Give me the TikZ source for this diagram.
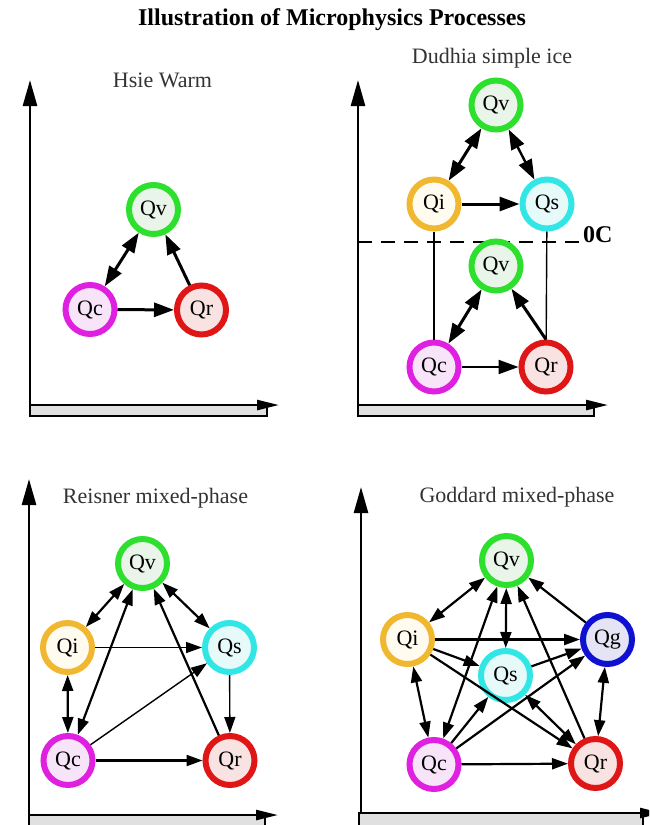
\documentclass[tikz,border=0pt]{standalone}
\usepackage{fontspec}
\setmainfont{Liberation Serif}
\usetikzlibrary{arrows.meta}

% ring and fill colours of the hydrometeor species
\definecolor{ringv}{HTML}{2EE02E}\definecolor{fillv}{HTML}{EAF5EA}
\definecolor{ringc}{HTML}{E020E0}\definecolor{fillc}{HTML}{F8E4F8}
\definecolor{ringr}{HTML}{E01515}\definecolor{fillr}{HTML}{F8E2E2}
\definecolor{ringi}{HTML}{F0B830}\definecolor{filli}{HTML}{FFFBEE}
\definecolor{rings}{HTML}{33E6E6}\definecolor{fills}{HTML}{E6FAFA}
\definecolor{ringg}{HTML}{1010D0}\definecolor{fillg}{HTML}{E4E4F4}
\definecolor{bargray}{HTML}{E0E0E0}
\definecolor{labelgray}{HTML}{333333}

\tikzset{
  bighead/.tip={Triangle[length=20pt,width=14pt]},
  smallhead/.tip={Triangle[length=16pt,width=11pt]},
  species/.style={circle, inner sep=0pt, minimum size=49pt, line width=6pt,
    font=\fontsize{22}{22}\selectfont},
  qv/.style={species, draw=ringv, fill=fillv},
  qc/.style={species, draw=ringc, fill=fillc},
  qr/.style={species, draw=ringr, fill=fillr},
  qi/.style={species, draw=ringi, fill=filli},
  qs/.style={species, draw=rings, fill=fills},
  qg/.style={species, draw=ringg, fill=fillg},
  warm/.style={line width=3pt, -bighead},
  warmboth/.style={line width=3pt, bighead-bighead},
  midflow/.style={line width=2.2pt, -bighead},
  midboth/.style={line width=2.4pt, bighead-bighead},
  flow/.style={line width=2.2pt, -smallhead},
  flowboth/.style={line width=2.2pt, smallhead-smallhead},
  lightflow/.style={line width=1.4pt, -smallhead},
  link/.style={line width=1.4pt},
  yaxis/.style={line width=2.5pt, -{Triangle[length=26pt,width=14pt]}},
  xaxis/.style={line width=2.5pt, -{Triangle[length=22pt,width=10pt]}},
  ground/.style={fill=bargray, draw=black, line width=1.5pt},
  paneltitle/.style={anchor=base, text=labelgray, font=\fontsize{22}{22}\selectfont},
}

\begin{document}
\begin{tikzpicture}[x=1pt, y=-1pt]
\path[use as bounding box, fill=white] (0,0) rectangle (649,825);
\clip (0,0) rectangle (649,825);

\node[anchor=base, font=\bfseries\fontsize{24}{24}\selectfont] (title) at (332,25)
  {Illustration of Microphysics Processes};

% ---------- Hsie Warm ----------
\coordinate (a-o) at (30,405);
\coordinate (a-top) at (30,80);
\coordinate (a-end) at (279,405);
\draw[ground] (30,405) rectangle (267,416);
\draw[yaxis] ([yshift=-1.25pt]a-o) -- (a-top);
\draw[xaxis] (a-o) -- (a-end);
\node[paneltitle] (a-title) at (162.5,87) {Hsie Warm};

\node[qv] (a-v) at (153.5,209.5) {Qv};
\node[qc] (a-c) at (90,309.5) {Qc};
\node[qr] (a-r) at (201.5,310) {Qr};
\draw[warmboth] (a-c) -- (a-v);
\draw[warm] (a-c) -- (a-r);
\draw[warm] (a-r) -- (a-v);

% ---------- Dudhia simple ice ----------
\coordinate (b-o) at (358,405);
\coordinate (b-top) at (358,80);
\coordinate (b-end) at (608,405);
\draw[ground] (358,405) rectangle (594,416);
\draw[yaxis] ([yshift=-1.25pt]b-o) -- (b-top);
\draw[xaxis] (b-o) -- (b-end);
\node[paneltitle] (b-title) at (492,63) {Dudhia simple ice};

\coordinate (b-zl) at (358,242);
\coordinate (b-zr) at (582,242);
\draw[line width=2pt, dash pattern=on 14pt off 9pt] (b-zl) -- (b-zr);
\node[anchor=base west, inner sep=0pt, font=\bfseries\fontsize{24}{24}\selectfont] (b-zero) at (583,242) {0C};

\node[qv] (b-v) at (496,105) {Qv};
\node[qi] (b-i) at (434,204) {Qi};
\node[qs] (b-s) at (547,204) {Qs};
\node[qv] (b-v2) at (496,266) {Qv};
\node[qc] (b-c) at (434,367) {Qc};
\node[qr] (b-r) at (546,367) {Qr};
\draw[warmboth] (b-i) -- (b-v);
\draw[midboth] (b-v) -- (b-s);
\draw[warm] (b-i) -- (b-s);
\draw[link] (b-i) -- (b-c);
\draw[link] (b-s) -- (b-r);
\draw[warmboth] (b-c) -- (b-v2);
\draw[warm] (b-r.north) -- (b-v2);
\draw[midflow] (b-c) -- (b-r);

% ---------- Reisner mixed-phase ----------
\coordinate (c-o) at (29,815);
\coordinate (c-top) at (29,479);
\coordinate (c-end) at (278,815);
\draw[ground] (29,815) rectangle (265,832);
\draw[yaxis] ([yshift=-1.25pt]c-o) -- (c-top);
\draw[xaxis] (c-o) -- (c-end);
\node[paneltitle] (c-title) at (155.5,503) {Reisner mixed-phase};

\node[qv] (c-v) at (142.5,563.5) {Qv};
\node[qi] (c-i) at (67.5,647.5) {Qi};
\node[qs] (c-s) at (229.5,647.5) {Qs};
\node[qc] (c-c) at (68,760.5) {Qc};
\node[qr] (c-r) at (230,760.5) {Qr};
\draw[flowboth] (c-i) -- (c-v);
\draw[flowboth] (c-v) -- (c-s);
\draw[lightflow] (c-i) -- (c-s);
\draw[flowboth] (c-i) -- (c-c);
\draw[flowboth] (c-c) -- (c-v);
\draw[flow] (c-r) -- (c-v);
\draw[lightflow] (c-c) -- (c-s);
\draw[lightflow] (c-s) -- (c-r);
\draw[flow] (c-c) -- (c-r);

% ---------- Goddard mixed-phase ----------
\coordinate (d-o) at (361,813);
\coordinate (d-top) at (361,487);
\coordinate (d-end) at (662,813);
\draw[ground] (359,813) rectangle (643,832);
\draw[yaxis] ([yshift=-1.25pt]d-o) -- (d-top);
\draw[xaxis] (d-o) -- (d-end);
\node[paneltitle] (d-title) at (517,502) {Goddard mixed-phase};

\node[qv] (d-v) at (506.5,560.5) {Qv};
\node[qi] (d-i) at (407.5,639.5) {Qi};
\node[qg] (d-g) at (607.5,639.5) {Qg};
\node[qs] (d-s) at (505.5,675.5) {Qs};
\node[qc] (d-c) at (434,764.5) {Qc};
\node[qr] (d-r) at (595.5,763.5) {Qr};
\draw[flowboth] (d-i) -- (d-v);
\draw[flowboth] (d-v) -- (d-s);
\draw[flow] (d-g) -- (d-v);
\draw[flow] (d-i) -- (d-g);
\draw[flow] (d-i) -- (d-s);
\draw[flow] (d-i) -- (d-r);
\draw[flowboth] (d-i) -- (d-c);
\draw[flowboth] (d-c) -- (d-v);
\draw[flow] (d-r) -- (d-v);
\draw[flow] (d-c) -- (d-s);
\draw[flow] (d-c) -- (d-g);
\draw[flow] (d-c) -- (d-r);
\draw[flow] (d-s) -- (d-g);
\draw[flowboth] (d-s) -- (d-r);
\draw[flowboth] (d-g) -- (d-r);
\end{tikzpicture}
\end{document}
